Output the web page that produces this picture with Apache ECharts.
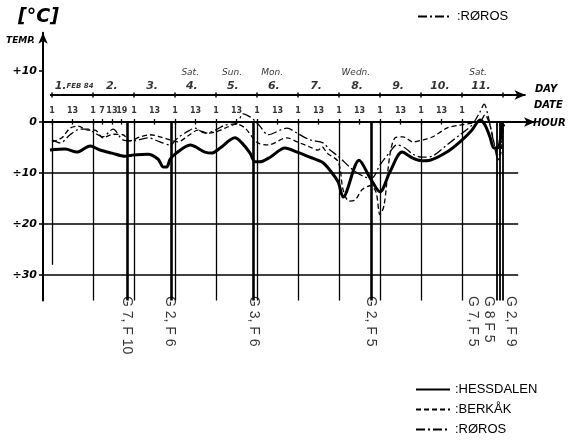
<!DOCTYPE html>
<html><head><meta charset="utf-8">
<script src="https://cdn.jsdelivr.net/npm/echarts@6/dist/echarts.min.js"></script>
<style>html,body{margin:0;padding:0;background:#fff}#c{width:576px;height:446px}</style>
</head><body><div id="c"></div>
<script>
// ---- DATA (x = days since 1 Feb 1984 01:00, y = temperature °C) ----
const hessdalen = [[-0.05,-5.5],[0.32,-5.3],[0.61,-5.9],[0.93,-4.7],[1.17,-5.5],[1.46,-6.1],[1.78,-6.7],[1.95,-6.5],[2.34,-6.3],[2.59,-7.3],[2.71,-8.8],[2.8,-8.8],[2.88,-7.3],[3.0,-6.3],[3.37,-4.5],[3.73,-5.9],[3.9,-6.1],[4.1,-5.1],[4.46,-3.1],[4.63,-4.1],[4.83,-6.1],[4.95,-7.8],[5.07,-7.8],[5.32,-6.9],[5.68,-5.1],[5.98,-5.9],[6.29,-6.9],[6.61,-8.0],[6.83,-10.0],[6.98,-11.8],[7.1,-14.7],[7.49,-7.5],[7.76,-11.0],[8.0,-13.7],[8.24,-9.8],[8.54,-5.9],[8.8,-7.1],[9.02,-7.6],[9.22,-7.5],[9.63,-5.9],[9.95,-3.9],[10.24,-1.6],[10.44,0.4],[10.56,-0.6],[10.68,-2.9],[10.78,-5.1],[10.88,-5.1],[10.98,0]];
const berkak = [[0,-3.9],[0.24,-3.1],[0.44,-1.2],[0.63,-0.8],[0.88,-1.6],[1.05,-1.6],[1.24,-3.1],[1.49,-2.4],[1.73,-2.5],[1.9,-3.7],[2.15,-2.9],[2.39,-2.5],[2.63,-2.9],[2.88,-3.5],[3.07,-3.9],[3.32,-2.7],[3.56,-1.6],[3.8,-2.2],[3.98,-2.0],[4.22,-1.2],[4.51,-0.4],[4.71,-1.2],[4.88,-2.9],[5.02,-4.1],[5.27,-4.5],[5.73,-3.1],[5.98,-3.9],[6.29,-4.9],[6.49,-5.5],[6.59,-4.9],[6.71,-6.1],[6.98,-7.8],[7.1,-13.3],[7.24,-15.5],[7.39,-15.3],[7.56,-13.3],[7.76,-12.5],[7.9,-13.7],[8.0,-18.2],[8.1,-16.3],[8.24,-6.5],[8.37,-3.1],[8.56,-2.9],[8.8,-3.9],[9.05,-3.5],[9.29,-2.9],[9.63,-1.2],[9.95,-0.6],[10.27,-0.2],[10.44,0],[10.56,1.4],[10.68,-0.6],[10.83,-5.5],[10.93,-6.5],[11.0,-0.6]];
const roros = [[0,-3.5],[0.2,-4.1],[0.44,-2.5],[0.68,-1.4],[0.88,-1.4],[1.05,-2.2],[1.24,-2.9],[1.49,-1.4],[1.73,-3.5],[1.98,-3.7],[2.34,-3.1],[2.63,-3.9],[2.88,-4.5],[3.07,-3.1],[3.32,-1.8],[3.49,-1.2],[3.73,-2.2],[3.98,-1.6],[4.22,-0.6],[4.51,-0.2],[4.66,1.6],[4.83,1.0],[4.95,0.2],[5.07,-0.8],[5.27,-2.5],[5.73,-1.2],[5.98,-2.2],[6.29,-3.5],[6.61,-4.1],[6.78,-5.5],[6.98,-6.7],[7.34,-9.4],[7.63,-10.8],[7.8,-11.0],[8.0,-8.4],[8.24,-5.9],[8.41,-4.5],[8.61,-5.1],[8.8,-6.3],[9.02,-6.9],[9.27,-6.7],[9.63,-4.5],[9.95,-2.5],[10.24,-0.6],[10.44,2.0],[10.54,3.5],[10.63,1.4],[10.76,-3.5],[10.88,-7.5],[10.98,-2.5],[11.05,0]];

const dayLabels = ['1.FEB 84','2.','3.','4.','5.','6.','7.','8.','9.','10.','11.'];
const dayLabelX = [0.54,1.46,2.44,3.41,4.41,5.41,6.44,7.44,8.44,9.46,10.46];
const weekdayLabels = ['Sat.','Sun.','Mon.','Wedn.','Sat.'];
const weekdayX = [3.37,4.39,5.37,7.41,10.39];
const hourLabels = ['1','13','1','7','13','19','1','13','1','13','1','13','1','13','1','13','1','13','1','13','1','13','1'];
const hourX = [0,0.5,1,1.22,1.46,1.7,2,2.5,3,3.5,4,4.5,5,5.5,6,6.5,7,7.5,8,8.5,9,9.5,10];
const dayStarts = [0,1,2,3,4,5,6,7,8,9,10];
const eventX = [1.83,2.9,4.9,7.78,10.85,10.93,11.0];
const eventLabels = ['G 7, F 10','G 2, F 6','G 3, F 6','G 2, F 5','G 7, F 5','G 8 F 5','G 2, F 9'];
const eventLabelX = [1.83,2.88,4.93,7.78,10.27,10.66,11.2];
const yTicks = [10,0,-10,-20,-30];
const yTickLabels = ['+10','0','÷10','÷20','÷30'];
const gridTemps = [-10,-20,-30];

// ---- layout helpers ----
const HAND = 'DejaVu Sans';
const X0 = -0.22, X1 = 11.78;
const DAYLINE = 5.3, YBOT = -35;

const marks = [];
gridTemps.forEach(t => marks.push([{coord:[X0,t],lineStyle:{width:1.6,color:'#000',type:'solid'}},{coord:[11.37,t]}]));
marks.push([{coord:[-0.05,DAYLINE],lineStyle:{width:2,color:'#000',type:'solid'},symbol:'none'},{coord:[11.55,DAYLINE],symbol:'arrow',symbolSize:[7,11]}]);
dayStarts.forEach((d,i) => {
  marks.push([{coord:[d,0],lineStyle:{width:1.3,color:'#000',type:'solid'}},{coord:[d,i===0?-28:YBOT]}]);
  marks.push([{coord:[d,DAYLINE-0.5],lineStyle:{width:1.5,color:'#000',type:'solid'}},{coord:[d,DAYLINE+0.5]}]);
});
marks.push([{coord:[11,DAYLINE-0.5],lineStyle:{width:1.5,color:'#000',type:'solid'}},{coord:[11,DAYLINE+0.5]}]);
hourX.forEach(d => marks.push([{coord:[d,-0.5],lineStyle:{width:1.3,color:'#000',type:'solid'}},{coord:[d,0.6]}]));
eventX.forEach((d,i) => marks.push([{coord:[d,0],lineStyle:{width:i>=4?1.8:2.6,color:'#000',type:'solid'}},{coord:[d,YBOT]}]));

function textSeries(xs, ys, texts, label) {
  return {type:'scatter', symbolSize:0, silent:true, z:5,
    data: xs.map((x,i)=>({value:[x, Array.isArray(ys)?ys[i]:ys], name:texts[i]})),
    label: Object.assign({show:true, position:'inside', color:'#000', formatter:p=>p.name}, label)};
}

const legendText = {fontFamily:'Liberation Sans', fontSize:13, color:'#000'};
const chart = echarts.init(document.getElementById('c'), null, {renderer:'canvas'});
chart.setOption({
  animation:false,
  backgroundColor:'#fff',
  grid:{left:43, top:122-17.5*5.1, width:492, height:52.5*5.1, containLabel:false},
  xAxis:{type:'value', min:X0, max:X1,
    axisLine:{onZero:true, symbol:['none','arrow'], symbolSize:[7,11], lineStyle:{color:'#000',width:2.2}},
    axisTick:{show:false}, axisLabel:{show:false}, splitLine:{show:false}},
  yAxis:{type:'value', min:YBOT, max:17.5,
    axisLine:{show:true, onZero:false, symbol:['none','arrow'], symbolSize:[7,11], lineStyle:{color:'#000',width:2}},
    axisTick:{show:true, customValues:yTicks, length:4, lineStyle:{color:'#000',width:1.5}},
    axisLabel:{show:true, customValues:yTicks, margin:6, color:'#000', fontFamily:HAND, fontWeight:'bold', fontStyle:'italic', fontSize:11,
      formatter:v=>yTickLabels[yTicks.indexOf(v)]},
    splitLine:{show:false}},
  legend:[
    {data:['HESSDALEN','BERKÅK','RØROS'], orient:'vertical', left:410, top:378, itemWidth:34, itemHeight:14, itemGap:7,
     itemStyle:{color:'rgba(0,0,0,0)', borderWidth:0, opacity:0},
     formatter:n=>':'+n, textStyle:legendText, selectedMode:false},
    {data:['RØROS'], orient:'horizontal', left:412, top:5, itemWidth:34, itemHeight:14,
     itemStyle:{color:'rgba(0,0,0,0)', borderWidth:0, opacity:0},
     formatter:n=>':'+n, textStyle:legendText, selectedMode:false}
  ],
  graphic:[
    {type:'text', left:18, top:8, style:{text:'[°C]', font:'italic bold 19px "DejaVu Sans"', fill:'#000'}},
    {type:'text', left:6, top:36, style:{text:'TEMP.', font:'italic bold 9px "DejaVu Sans"', fill:'#000'}},
    {type:'text', left:535, top:84, style:{text:'DAY', font:'italic bold 10px "DejaVu Sans"', fill:'#000'}},
    {type:'text', left:534, top:100, style:{text:'DATE', font:'italic bold 10px "DejaVu Sans"', fill:'#000'}},
    {type:'text', left:533, top:118, style:{text:'HOUR', font:'italic bold 10px "DejaVu Sans"', fill:'#000'}}
  ],
  series:[
    {name:'HESSDALEN', type:'line', data:hessdalen, smooth:0.3, symbol:'none', z:4,
     lineStyle:{color:'#000', width:3}, itemStyle:{color:'#000'}},
    {name:'BERKÅK', type:'line', data:berkak, smooth:0.3, symbol:'none', z:3,
     lineStyle:{color:'#000', width:1.3, type:[5,3]}, itemStyle:{color:'#000'}},
    {name:'RØROS', type:'line', data:roros, smooth:0.3, symbol:'none', z:3,
     lineStyle:{color:'#000', width:1.3, type:[9,3,2,3]}, itemStyle:{color:'#000'}},
    {type:'line', data:[], silent:true, z:2,
     markLine:{silent:true, symbol:'none', label:{show:false}, animation:false, data:marks}},
    textSeries(dayLabelX, 7.1, dayLabels, {fontFamily:HAND, fontStyle:'italic', fontWeight:'bold', fontSize:11,
      formatter:p=>{const m=p.name.match(/^(\d+\.)(.*)$/); return m[2]?'{a|'+m[1]+'}{b|'+m[2]+'}':'{a|'+m[1]+'}';},
      rich:{a:{fontFamily:HAND, fontStyle:'italic', fontWeight:'bold', fontSize:11, color:'#000'},
            b:{fontFamily:HAND, fontStyle:'italic', fontWeight:'bold', fontSize:7, color:'#000'}}}),
    textSeries(weekdayX, 9.6, weekdayLabels, {fontFamily:HAND, fontStyle:'italic', fontSize:9}),
    textSeries(hourX, 2.2, hourLabels, {fontFamily:HAND, fontWeight:'bold', fontSize:8}),
    textSeries(eventLabelX, -34.1, eventLabels, {fontFamily:'Liberation Sans', fontSize:14, rotate:-90, align:'left', verticalAlign:'middle'})
  ]
});
</script></body></html>
